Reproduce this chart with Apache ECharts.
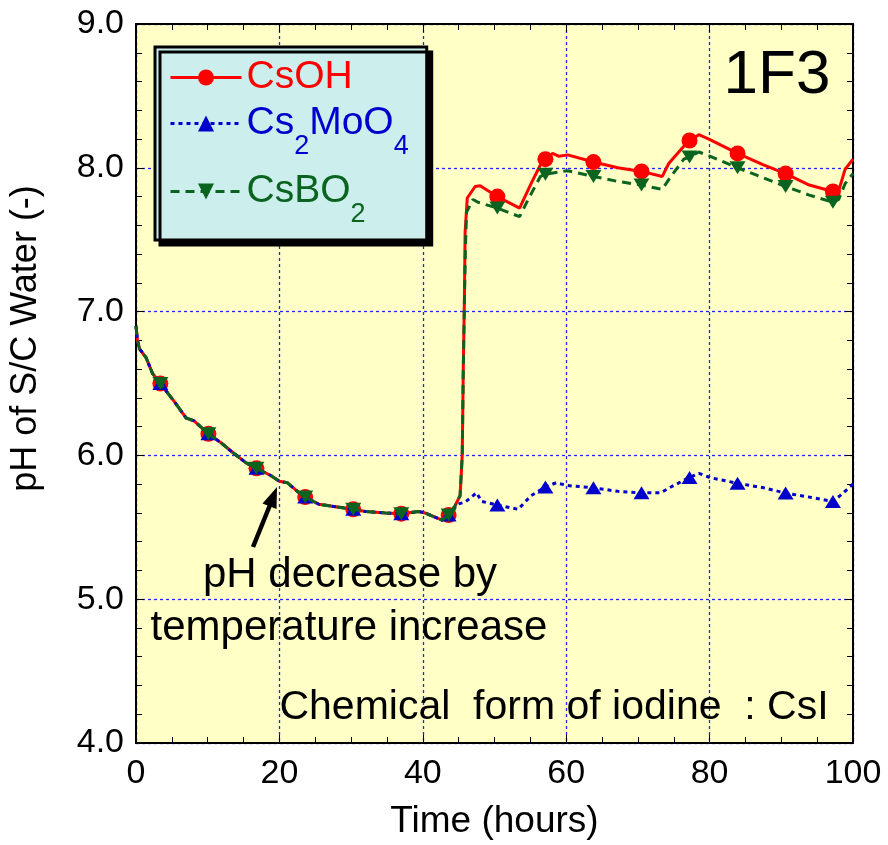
<!DOCTYPE html>
<html>
<head>
<meta charset="utf-8">
<script src="https://cdn.jsdelivr.net/npm/echarts@6/dist/echarts.min.js"></script>
<style>
html,body{margin:0;padding:0;background:#fff;}
#chart{width:888px;height:845px;}
</style>
</head>
<body>
<div id="chart"></div>
<script>
// ---- data ----
const xTicks = [0, 20, 40, 60, 80, 100];
const yTicks = [4.0, 5.0, 6.0, 7.0, 8.0, 9.0];

// common curve before the species diverge (hours, pH)
const sharedT  = [0, 0.2, 0.5, 1.4, 2.3, 5.4, 7.0, 8.1, 11.8, 13.5, 15.3, 18.8, 20.0, 21.1, 22.5, 25.5, 28.3, 32.0, 34.8, 39.4, 40.3, 42.7];
const sharedPH = [6.90, 6.80, 6.74, 6.68, 6.57, 6.37, 6.26, 6.24, 6.09, 6.02, 5.95, 5.86, 5.82, 5.81, 5.75, 5.66, 5.64, 5.61, 5.60, 5.61, 5.60, 5.55];

// marker times and common early marker values
const markerT = [3.4, 10.1, 16.8, 23.6, 30.3, 37.0, 43.6, 50.4, 57.1, 63.8, 70.5, 77.2, 83.9, 90.6, 97.2];
const sharedMarkerPH = [6.50, 6.15, 5.91, 5.71, 5.625, 5.595, 5.585];

// CsOH
const csohT  = [44.5, 45.2, 45.5, 45.65, 45.8, 45.9, 46.2, 47.3, 48.0, 49.1, 53.5, 55.1, 56.5, 58.1, 59.0, 60.2, 67.2, 73.4, 74.3, 76.4, 78.5, 79.9, 87.5, 93.9, 98.0, 98.9, 100];
const csohPH = [5.65, 5.72, 6.00, 6.62, 7.08, 7.55, 7.79, 7.87, 7.875, 7.84, 7.72, 7.89, 8.03, 8.10, 8.08, 8.09, 8.00, 7.94, 8.03, 8.15, 8.23, 8.20, 8.02, 7.88, 7.84, 7.99, 8.06];
const csohMarkerPH = [7.80, 8.06, 8.04, 7.975, 8.19, 8.10, 7.96, 7.835];

// Cs2MoO4
const moT  = [44.8, 45.9, 47.5, 48.2, 53.3, 55.1, 58.6, 60.2, 67.2, 73.2, 74.6, 78.5, 80.1, 87.5, 93.9, 98.2, 100];
const moPH = [5.66, 5.675, 5.74, 5.68, 5.625, 5.72, 5.81, 5.79, 5.75, 5.74, 5.78, 5.875, 5.845, 5.775, 5.71, 5.72, 5.80];
const moMarkerPH = [5.655, 5.78, 5.775, 5.74, 5.847, 5.806, 5.738, 5.68];

// CsBO2
const boT  = [44.5, 45.2, 45.5, 45.65, 45.8, 45.95, 46.1, 47.0, 47.7, 53.5, 54.7, 56.4, 60.2, 67.2, 73.4, 74.6, 76.4, 78.5, 80.1, 87.5, 93.9, 98.0, 98.9, 100];
const boPH = [5.65, 5.72, 6.00, 6.60, 7.05, 7.45, 7.69, 7.78, 7.76, 7.66, 7.78, 7.94, 7.98, 7.905, 7.85, 7.94, 8.06, 8.11, 8.08, 7.93, 7.81, 7.78, 7.89, 7.96];
const boMarkerPH = [7.72, 7.955, 7.94, 7.88, 8.075, 8.00, 7.87, 7.76];

const seriesNames = ['CsOH', 'Cs2MoO4', 'CsBO2'];

// ---- build ----
function buildLine(lateT, latePH, lateMarkers) {
  const pts = [];
  sharedT.forEach((t, i) => pts.push({ value: [t, sharedPH[i]], symbol: 'none' }));
  lateT.forEach((t, i) => pts.push({ value: [t, latePH[i]], symbol: 'none' }));
  const mv = sharedMarkerPH.concat(lateMarkers);
  markerT.forEach((t, i) => pts.push({ value: [t, mv[i]] }));
  pts.sort((a, b) => a.value[0] - b.value[0]);
  return pts;
}

const RED = '#FF0000', BLUE = '#0000CC', GREEN = '#0A6420';
const FONT = 'Liberation Sans';

const chart = echarts.init(document.getElementById('chart'), null, { renderer: 'canvas' });

const commonX = {
  type: 'value', min: xTicks[0], max: xTicks[xTicks.length - 1], interval: 20,
  axisLine: { show: true, onZero: false, lineStyle: { color: '#000', width: 2 } },
  axisTick: { show: true, inside: true, length: 8, lineStyle: { color: '#000', width: 1 } },
  minorTick: { show: true, splitNumber: 4, length: 6, lineStyle: { color: '#000', width: 1 } },
  minorSplitLine: { show: false }
};
const commonY = {
  type: 'value', min: yTicks[0], max: yTicks[yTicks.length - 1], interval: 1,
  axisLine: { show: true, onZero: false, lineStyle: { color: '#000', width: 2 } },
  axisTick: { show: true, inside: true, length: 8, lineStyle: { color: '#000', width: 1 } },
  minorTick: { show: true, splitNumber: 5, length: 6, lineStyle: { color: '#000', width: 1 } },
  minorSplitLine: { show: false }
};
const gridLine = { show: true, lineStyle: { color: '#2222FF', width: 1.3, type: [3, 3] } };

const mainSub = (color, extra) => ({
  m: { fontFamily: FONT, fontSize: 39, color: color, lineHeight: 73 + 2 * extra, padding: [17 + extra, 0, 0, 0], verticalAlign: 'top' },
  s: { fontFamily: FONT, fontSize: 27, color: color, lineHeight: 73 + 2 * extra, padding: [46 + extra, 0, 0, 0], verticalAlign: 'top' }
});
const blueRich = mainSub(BLUE, 0), greenRich = mainSub(GREEN, 5);

const option = {
  animation: false,
  backgroundColor: '#FFFFFF',
  textStyle: { fontFamily: FONT },
  grid: { left: 133, right: 35, top: 24, bottom: 101, show: true, backgroundColor: '#FFFFC6', borderWidth: 0 },
  xAxis: [
    Object.assign({}, commonX, {
      position: 'bottom',
      name: 'Time (hours)', nameLocation: 'middle', nameGap: 60,
      nameTextStyle: { fontFamily: FONT, fontSize: 37, color: '#000' },
      axisLabel: { show: true, margin: 14, fontFamily: FONT, fontSize: 34, color: '#000' },
      splitLine: gridLine
    }),
    Object.assign({}, commonX, {
      position: 'top', axisLabel: { show: false }, splitLine: { show: false }
    })
  ],
  yAxis: [
    Object.assign({}, commonY, {
      position: 'left',
      name: 'pH of S/C Water (-)', nameLocation: 'middle', nameGap: 92,
      nameTextStyle: { fontFamily: FONT, fontSize: 36, color: '#000', padding: [0, 0, 0, 90] },
      axisLabel: { show: true, margin: 12, fontFamily: FONT, fontSize: 34, color: '#000', formatter: v => v.toFixed(1) },
      splitLine: gridLine
    }),
    Object.assign({}, commonY, {
      position: 'right', axisLabel: { show: false }, splitLine: { show: false }
    })
  ],
  legend: {
    orient: 'vertical', left: 155, top: 47,
    padding: [11, 18, 12, 14],
    itemWidth: 71, itemHeight: 20, itemGap: -10,
    backgroundColor: '#CCEEEC', borderColor: '#000', borderWidth: 3,
    shadowColor: '#000', shadowOffsetX: 5, shadowOffsetY: 5, shadowBlur: 0.01,
    selectedMode: false,
    lineStyle: { width: 3 },
    data: seriesNames,
    formatter: function (name) {
      if (name === 'CsOH') return '{r|CsOH}';
      if (name === 'Cs2MoO4') return '{bm|Cs}{bs|2}{bm|MoO}{bs|4}';
      return '{gm|CsBO}{gs|2}';
    },
    textStyle: {
      fontFamily: FONT,
      rich: {
        r:  { fontFamily: FONT, fontSize: 39, color: RED, lineHeight: 40 },
        bm: blueRich.m, bs: blueRich.s,
        gm: greenRich.m, gs: greenRich.s
      }
    }
  },
  series: [
    {
      name: 'CsOH', type: 'line', xAxisIndex: 0, yAxisIndex: 0,
      data: buildLine(csohT, csohPH, csohMarkerPH),
      showSymbol: true, showAllSymbol: true,
      symbol: 'circle', symbolSize: 16,
      itemStyle: { color: RED },
      lineStyle: { color: RED, width: 3, type: 'solid' },
      z: 3
    },
    {
      name: 'Cs2MoO4', type: 'line', xAxisIndex: 0, yAxisIndex: 0,
      data: buildLine(moT, moPH, moMarkerPH),
      showSymbol: true, showAllSymbol: true,
      symbol: 'triangle', symbolSize: [16, 13],
      itemStyle: { color: BLUE },
      lineStyle: { color: BLUE, width: 3, type: [4, 4] },
      z: 4
    },
    {
      name: 'CsBO2', type: 'line', xAxisIndex: 0, yAxisIndex: 0,
      data: buildLine(boT, boPH, boMarkerPH),
      showSymbol: true, showAllSymbol: true,
      symbol: 'path://M0,0 L10,0 L5,8 Z', symbolSize: [16, 13],
      itemStyle: { color: GREEN },
      lineStyle: { color: GREEN, width: 3, type: [9, 6] },
      z: 5
    }
  ],
  graphic: [
    { type: 'text', x: 777, y: 76, z: 10,
      style: { text: '1F3', fontFamily: FONT, fontSize: 62, fill: '#000', align: 'center', verticalAlign: 'middle' } },
    { type: 'text', x: 350, y: 575, z: 10,
      style: { text: 'pH decrease by', fontFamily: FONT, fontSize: 42, fill: '#000', align: 'center', verticalAlign: 'middle' } },
    { type: 'text', x: 349, y: 628, z: 10,
      style: { text: 'temperature increase', fontFamily: FONT, fontSize: 42, fill: '#000', align: 'center', verticalAlign: 'middle' } },
    { type: 'text', x: 554, y: 708, z: 10,
      style: { text: 'Chemical  form of iodine  : CsI', fontFamily: FONT, fontSize: 41, fill: '#000', align: 'center', verticalAlign: 'middle' } },
    { type: 'line', z: 10, shape: { x1: 253, y1: 547, x2: 270, y2: 505 }, style: { stroke: '#000', lineWidth: 4.5 } },
    { type: 'polygon', z: 10, shape: { points: [[277, 487], [276.5, 509], [262.5, 503.5]] }, style: { fill: '#000' } }
  ]
};
chart.setOption(option);
</script>
</body>
</html>
